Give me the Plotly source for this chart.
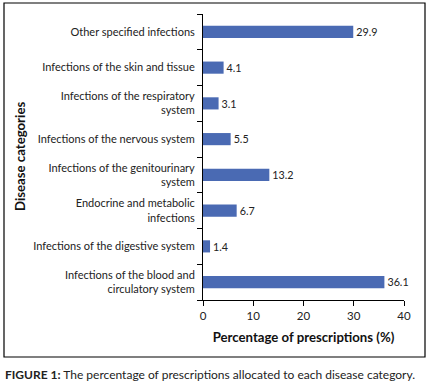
import plotly.graph_objects as go

categories = [
    "Infections of the blood and<br>circulatory system",
    "Infections of the digestive system",
    "Endocrine and metabolic<br>infections",
    "Infections of the genitourinary<br>system",
    "Infections of the nervous system",
    "Infections of the respiratory<br>system",
    "Infections of the skin and tissue",
    "Other specified infections",
]
values = [36.1, 1.4, 6.7, 13.2, 5.5, 3.1, 4.1, 29.9]
x_ticks = [0, 10, 20, 30, 40]

FONT = "Lato, 'Open Sans', sans-serif"
L, R, T, B = 203, 25, 14, 88
W, H = 429, 388
pw, ph = W - L - R, H - T - B

def px_to_paper_x(px):
    return (px - L) / pw

def px_to_paper_y(py):
    return (H - B - py) / ph

fig = go.Figure(go.Bar(
    x=values, y=categories, orientation="h",
    marker=dict(color="#4a6ab3", line=dict(width=0)),
    text=[f"{v:.1f}" for v in values], textposition="outside",
    textfont=dict(size=11.5, color="#222", family=FONT),
    cliponaxis=False,
))

fig.update_layout(
    width=W, height=H,
    margin=dict(l=L, r=R, t=T, b=B, pad=0),
    paper_bgcolor="white", plot_bgcolor="white",
    bargap=0.66,
    showlegend=False,
    font=dict(family=FONT, size=11, color="#222"),
    xaxis=dict(
        range=[0, 40], tickvals=x_ticks, showgrid=False, zeroline=False,
        showline=True, linecolor="black", linewidth=1,
        ticks="outside", ticklen=5, tickcolor="black",
        tickfont=dict(size=11.5, color="#222"),
        title=dict(text="<b>Percentage of prescriptions (%)</b>", font=dict(size=13.2, color="#111"), standoff=11),
        automargin=False,
    ),
    yaxis=dict(
        showgrid=False, showline=True, linecolor="black", linewidth=1,
        ticks="outside", ticklen=5, tickcolor="black", tickson="boundaries",
        tickfont=dict(size=11, color="#222"), ticklabelstandoff=5,
        automargin=False,
    ),
    shapes=[dict(
        type="rect", xref="paper", yref="paper",
        x0=px_to_paper_x(4), x1=px_to_paper_x(425),
        y0=px_to_paper_y(357), y1=px_to_paper_y(3),
        line=dict(color="black", width=1.2), fillcolor="rgba(0,0,0,0)", layer="below",
    )],
    annotations=[
        dict(text="<b>Disease categories</b>", xref="paper", yref="paper",
             x=px_to_paper_x(20), y=0.5, textangle=-90, showarrow=False,
             font=dict(size=13.2, color="#111"), xanchor="center", yanchor="middle"),
        dict(text="<b>FIGURE 1:</b> The percentage of prescriptions allocated to each disease category.",
             xref="paper", yref="paper", x=px_to_paper_x(3), y=px_to_paper_y(374),
             showarrow=False, xanchor="left", yanchor="middle",
             font=dict(size=12, color="#222")),
    ],
)

fig.write_html("out.html", config={"displayModeBar": False},
               post_script="document.body.style.margin='0';document.body.style.overflow='hidden';")
